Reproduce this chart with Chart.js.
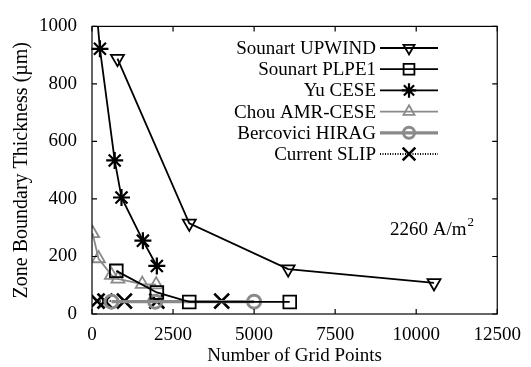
<!DOCTYPE html>
<html>
<head>
<meta charset="utf-8">
<script src="https://cdn.jsdelivr.net/npm/chart.js@4.4.0/dist/chart.umd.min.js"></script>
<style>
  html, body { margin: 0; padding: 0; background: #fff; }
  #wrap { width: 531px; height: 367px; }
</style>
</head>
<body>
<div id="wrap"><canvas id="chart" width="531" height="367"></canvas></div>
<script>
// datos
const xTicks = [0, 2500, 5000, 7500, 10000, 12500];
const yTicks = [0, 200, 400, 600, 800, 1000];

const upwindX = [785, 3000, 6050, 10550];
const upwindY = [888, 315, 156, 108];

const plpeX = [750, 2000, 3000, 6100];
const plpeY = [150, 75, 42, 42];

const yuX = [125, 245, 700, 910, 1570, 2000];
const yuY = [1075, 922, 534, 405, 255, 167];

const chouX = [20, 200, 600, 800, 1550, 1980];
const chouY = [280, 193, 135, 122, 104, 102];

const hiragX = [600, 1950, 5000];
const hiragY = [43, 43, 43];

const slipX = [160, 400, 1000, 2000, 4000];
const slipY = [45, 45, 45, 45, 45];

const seriesNames = ['Sounart UPWIND', 'Sounart PLPE1', 'Yu CESE', 'Chou AMR-CESE', 'Bercovici HIRAG', 'Current SLIP'];

const GRAY = '#8a8a8a';
const FONT = 'Liberation Serif';

Chart.defaults.font.family = FONT;
Chart.defaults.color = '#000';

function pts(xs, ys) {
    return xs.map((x, i) => ({ x: x, y: ys[i] }));
}

const datasets = [
    {
        label: seriesNames[0], data: pts(upwindX, upwindY),
        borderColor: '#000', borderWidth: 1.8, pointStyle: 'triangle', rotation: 180,
        pointRadius: 7.5, pointBorderWidth: 1.8, pointBackgroundColor: 'rgba(0,0,0,0)', pointBorderColor: '#000'
    },
    {
        label: seriesNames[1], data: pts(plpeX, plpeY),
        borderColor: '#000', borderWidth: 1.8, pointStyle: 'rect',
        pointRadius: 9, pointBorderWidth: 1.8, pointBackgroundColor: 'rgba(0,0,0,0)', pointBorderColor: '#000'
    },
    {
        label: seriesNames[2], data: pts(yuX, yuY),
        borderColor: '#000', borderWidth: 1.8, pointStyle: 'star',
        pointRadius: 8.5, pointBorderWidth: 2.2, pointBackgroundColor: 'rgba(0,0,0,0)', pointBorderColor: '#000',
        clip: { left: 20, top: 0, right: 20, bottom: 20 }
    },
    {
        label: seriesNames[3], data: pts(chouX, chouY),
        borderColor: GRAY, borderWidth: 1.8, pointStyle: 'triangle',
        pointRadius: 7.5, pointBorderWidth: 1.8, pointBackgroundColor: 'rgba(0,0,0,0)', pointBorderColor: GRAY
    },
    {
        label: seriesNames[4], data: pts(hiragX, hiragY),
        borderColor: GRAY, borderWidth: 3.2, pointStyle: 'circle',
        pointRadius: 6.5, pointBorderWidth: 3, pointBackgroundColor: 'rgba(0,0,0,0)', pointBorderColor: GRAY
    },
    {
        label: seriesNames[5], data: pts(slipX, slipY),
        borderColor: '#000', borderWidth: 2, borderDash: [1, 1.5], pointStyle: 'crossRot',
        pointRadius: 10.5, pointBorderWidth: 2.6, pointBackgroundColor: 'rgba(0,0,0,0)', pointBorderColor: '#000'
    }
];

// marco, marcas interiores, leyenda y anotacion
const framePlugin = {
    id: 'frame',
    afterDraw(chart) {
        const ctx = chart.ctx;
        const a = chart.chartArea;
        const xs = chart.scales.x, ys = chart.scales.y;
        ctx.save();
        ctx.strokeStyle = '#000';
        ctx.lineWidth = 1.2;
        ctx.setLineDash([]);
        ctx.strokeRect(a.left, a.top, a.right - a.left, a.bottom - a.top);
        const tl = 5;
        ctx.beginPath();
        xTicks.forEach(v => {
            const p = xs.getPixelForValue(v);
            ctx.moveTo(p, a.bottom); ctx.lineTo(p, a.bottom - tl);
            ctx.moveTo(p, a.top); ctx.lineTo(p, a.top + tl);
        });
        yTicks.forEach(v => {
            const p = ys.getPixelForValue(v);
            ctx.moveTo(a.left, p); ctx.lineTo(a.left + tl, p);
            ctx.moveTo(a.right, p); ctx.lineTo(a.right - tl, p);
        });
        ctx.stroke();

        // leyenda estilo gnuplot
        ctx.font = '19px ' + FONT;
        ctx.textAlign = 'right';
        ctx.textBaseline = 'middle';
        const textRight = 376, lineL = 380, lineR = 438, rowY = 48, rowH = 21.2;
        chart.data.datasets.forEach((ds, i) => {
            const y = rowY + i * rowH;
            ctx.fillStyle = '#000';
            ctx.fillText(ds.label, textRight, y + 1);
            ctx.strokeStyle = ds.borderColor;
            ctx.lineWidth = ds.borderWidth;
            ctx.setLineDash(ds.borderDash || []);
            ctx.beginPath();
            ctx.moveTo(lineL, y); ctx.lineTo(lineR, y);
            ctx.stroke();
            ctx.setLineDash([]);
            ctx.strokeStyle = ds.pointBorderColor;
            ctx.fillStyle = 'rgba(0,0,0,0)';
            ctx.lineWidth = ds.pointBorderWidth;
            Chart.helpers.drawPoint(ctx, {
                pointStyle: ds.pointStyle, radius: ds.pointRadius * 0.85,
                rotation: ds.rotation || 0, borderWidth: ds.pointBorderWidth
            }, (lineL + lineR) / 2, y);
        });

        // anotacion de densidad de corriente
        ctx.fillStyle = '#000';
        ctx.textAlign = 'left';
        ctx.textBaseline = 'alphabetic';
        ctx.font = '19px ' + FONT;
        const t = '2260 A/m';
        ctx.fillText(t, 390, 235);
        const w = ctx.measureText(t).width;
        ctx.font = '13px ' + FONT;
        ctx.fillText('2', 390 + w + 1, 226);
        ctx.restore();
    }
};

const ctx = document.getElementById('chart').getContext('2d');
const chart = new Chart(ctx, {
    type: 'line',
    data: { datasets: datasets },
    options: {
        responsive: false,
        animation: false,
        devicePixelRatio: 1,
        layout: { padding: { top: 20, right: 30, left: 0, bottom: 0 } },
        plugins: { legend: { display: false }, tooltip: { enabled: false } },
        scales: {
            x: {
                type: 'linear', min: 0, max: 12500,
                afterFit(scale) { scale.height = 53; },
                afterBuildTicks(scale) { scale.ticks = xTicks.map(v => ({ value: v })); },
                grid: { display: false, drawTicks: false },
                border: { display: false },
                ticks: { color: '#000', font: { family: FONT, size: 19 }, padding: 10, maxRotation: 0, callback: v => String(v) },
                title: { display: true, text: 'Number of Grid Points', color: '#000', font: { family: FONT, size: 19 }, padding: { top: 0, bottom: 0 } }
            },
            y: {
                type: 'linear', min: 0, max: 1000,
                afterFit(scale) { scale.width = 92; },
                afterBuildTicks(scale) { scale.ticks = yTicks.map(v => ({ value: v })); },
                grid: { display: false, drawTicks: false },
                border: { display: false },
                ticks: { color: '#000', font: { family: FONT, size: 19 }, padding: 15, callback: v => String(v) },
                title: { display: true, text: 'Zone Boundary Thickness (µm)', color: '#000', font: { family: FONT, size: 20 }, padding: { top: 10, bottom: 0 } }
            }
        }
    },
    plugins: [framePlugin]
});
</script>
</body>
</html>
